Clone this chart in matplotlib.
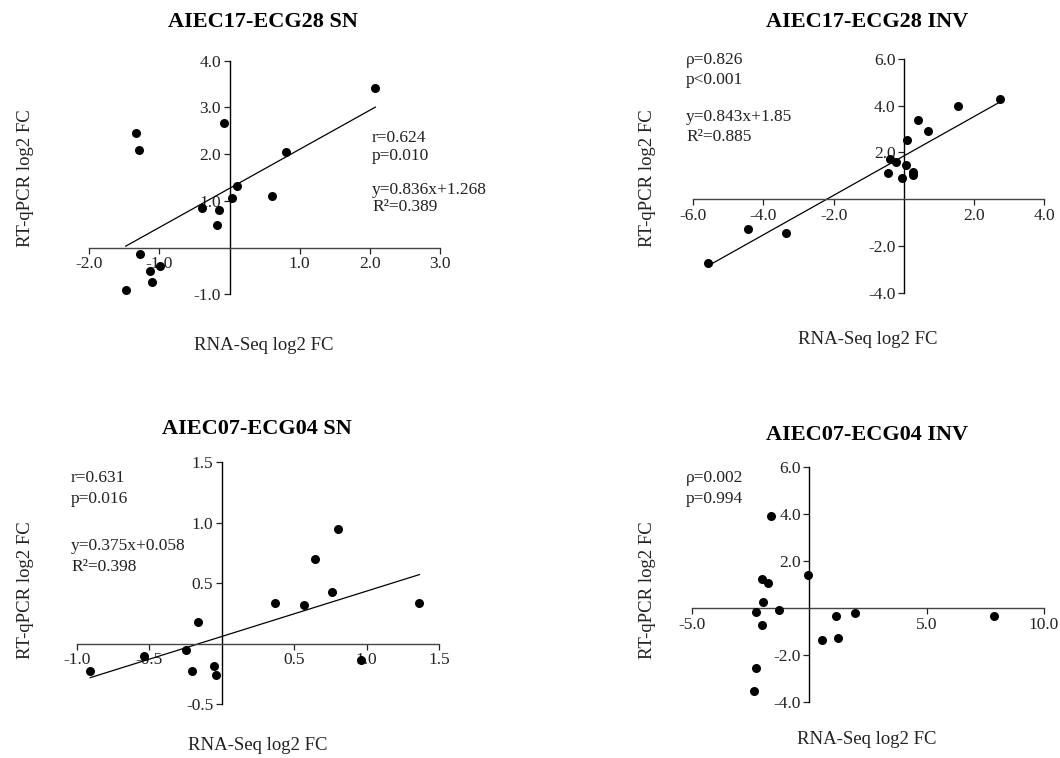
import matplotlib.pyplot as plt
import numpy as np

plt.rcParams['font.family'] = ['Liberation Serif', 'DejaVu Serif']

W, H = 1060, 758

# AIEC17-ECG28 SN
sn28_x = [-1.33, -1.29, -0.08, 0.80, 0.11, 0.04, 0.61, -0.39, -0.15, -0.18,
          -1.27, -0.99, -1.13, -1.11, -1.48, 2.08]
sn28_y = [2.45, 2.08, 2.66, 2.05, 1.32, 1.06, 1.11, 0.85, 0.81, 0.49,
          -0.14, -0.39, -0.51, -0.74, -0.91, 3.42]

# AIEC17-ECG28 INV
inv28_x = [-5.59, -4.45, -3.37, -0.46, -0.39, -0.21, -0.06, 0.06, 0.09, 0.25,
           0.26, 0.40, 0.69, 1.53, 2.75]
inv28_y = [-2.73, -1.26, -1.46, 1.13, 1.73, 1.60, 0.89, 1.47, 2.53, 1.17,
           1.03, 3.37, 2.90, 4.00, 4.30]

# AIEC07-ECG04 SN
sn04_x = [-0.907, -0.534, -0.244, -0.166, -0.207, -0.055, -0.039, 0.368, 0.571,
          0.644, 0.759, 0.80, 0.964, 1.365]
sn04_y = [-0.23, -0.099, -0.052, 0.179, -0.228, -0.187, -0.258, 0.332, 0.319,
          0.698, 0.429, 0.95, -0.137, 0.335]

# AIEC07-ECG04 INV
inv04_x = [-1.63, -0.03, -2.01, -1.77, -1.96, -2.26, -1.30, -2.01, -2.28, -2.35,
           0.55, 1.16, 1.25, 1.94, 7.87]
inv04_y = [3.93, 1.42, 1.23, 1.06, 0.28, -0.17, -0.07, -0.70, -2.52, -3.53,
           -1.36, -0.33, -1.25, -0.18, -0.33]


def px(x, y):
    return x / W, 1 - y / H


def panel(rect, xs, ys, xticks, yticks, fit=None):
    ax = fig.add_axes(rect)
    ax.scatter(xs, ys, s=30, color='black', zorder=3, clip_on=False)
    if fit is not None:
        slope, icept = fit
        lx = np.array([min(xs), max(xs)])
        ax.plot(lx, slope * lx + icept, color='black', lw=0.9)
    ax.set_xlim(xticks[0], xticks[-1])
    ax.set_ylim(yticks[0], yticks[-1])
    ax.set_xticks([t for t in xticks if t != 0])
    ax.set_yticks([t for t in yticks if t != 0])
    ax.set_xticklabels(['%.1f' % t for t in xticks if t != 0])
    ax.set_yticklabels(['%.1f' % t for t in yticks if t != 0])
    for s in ['top', 'right']:
        ax.spines[s].set_visible(False)
    ax.spines['left'].set_position(('data', 0))
    ax.spines['bottom'].set_position(('data', 0))
    ax.spines['bottom'].set_color('#444444')
    for s in ['left', 'bottom']:
        ax.spines[s].set_linewidth(1.0)
    ax.tick_params(direction='out', length=4, width=0.9, labelsize=12.5, pad=2,
                   colors='#222222')
    ax.patch.set_alpha(0)
    return ax


fig = plt.figure(figsize=(10.6, 7.58), dpi=100)

panel([0.0842, 0.6117, 0.3308, 0.3082], sn28_x, sn28_y,
      [-2, -1, 0, 1, 2, 3], [-1, 0, 1, 2, 3, 4], fit=(0.836, 1.268))
panel([0.6540, 0.6139, 0.3311, 0.3083], inv28_x, inv28_y,
      [-6, -4, -2, 0, 2, 4], [-4, -2, 0, 2, 4, 6], fit=(0.843, 1.85))
panel([0.0724, 0.0712, 0.3418, 0.3193], sn04_x, sn04_y,
      [-1.0, -0.5, 0, 0.5, 1.0, 1.5], [-0.5, 0, 0.5, 1.0, 1.5], fit=(0.375, 0.058))
panel([0.6525, 0.0735, 0.3324, 0.3100], inv04_x, inv04_y,
      [-5, 0, 5, 10], [-4, -2, 0, 2, 4, 6])

# titles
titles = [('AIEC17-ECG28 SN', 263, 22), ('AIEC17-ECG28 INV', 867, 22),
          ('AIEC07-ECG04 SN', 257, 429), ('AIEC07-ECG04 INV', 867, 435)]
for t, x, y in titles:
    fig.text(*px(x, y), t, ha='center', va='center', fontsize=16,
             fontweight='bold')

# axis labels
for x, y in [(264, 346), (868, 340), (258, 745), (867, 740)]:
    fig.text(*px(x, y), 'RNA-Seq log2 FC', ha='center', va='center',
             fontsize=13.5, color='#222222')
for x, y in [(25, 178), (648, 178), (25, 590), (648, 590)]:
    fig.text(*px(x, y), 'RT-qPCR log2 FC', ha='center', va='center',
             fontsize=13.5, rotation=90, color='#222222')

# statistics
stats = [
    (372, [('r=0.624', 138), ('p=0.010', 156), ('y=0.836x+1.268', 190),
           ('R²=0.389', 207)]),
    (686, [('ρ=0.826', 60), ('p<0.001', 80), ('y=0.843x+1.85', 117),
           ('R²=0.885', 137)]),
    (71, [('r=0.631', 478), ('p=0.016', 499), ('y=0.375x+0.058', 546),
          ('R²=0.398', 567)]),
    (686, [('ρ=0.002', 478), ('p=0.994', 499)]),
]
for x, lines in stats:
    for t, y in lines:
        fig.text(*px(x, y), t, ha='left', va='center', fontsize=12.5,
                 color='#222222')

fig.savefig('out.png', dpi=100)
